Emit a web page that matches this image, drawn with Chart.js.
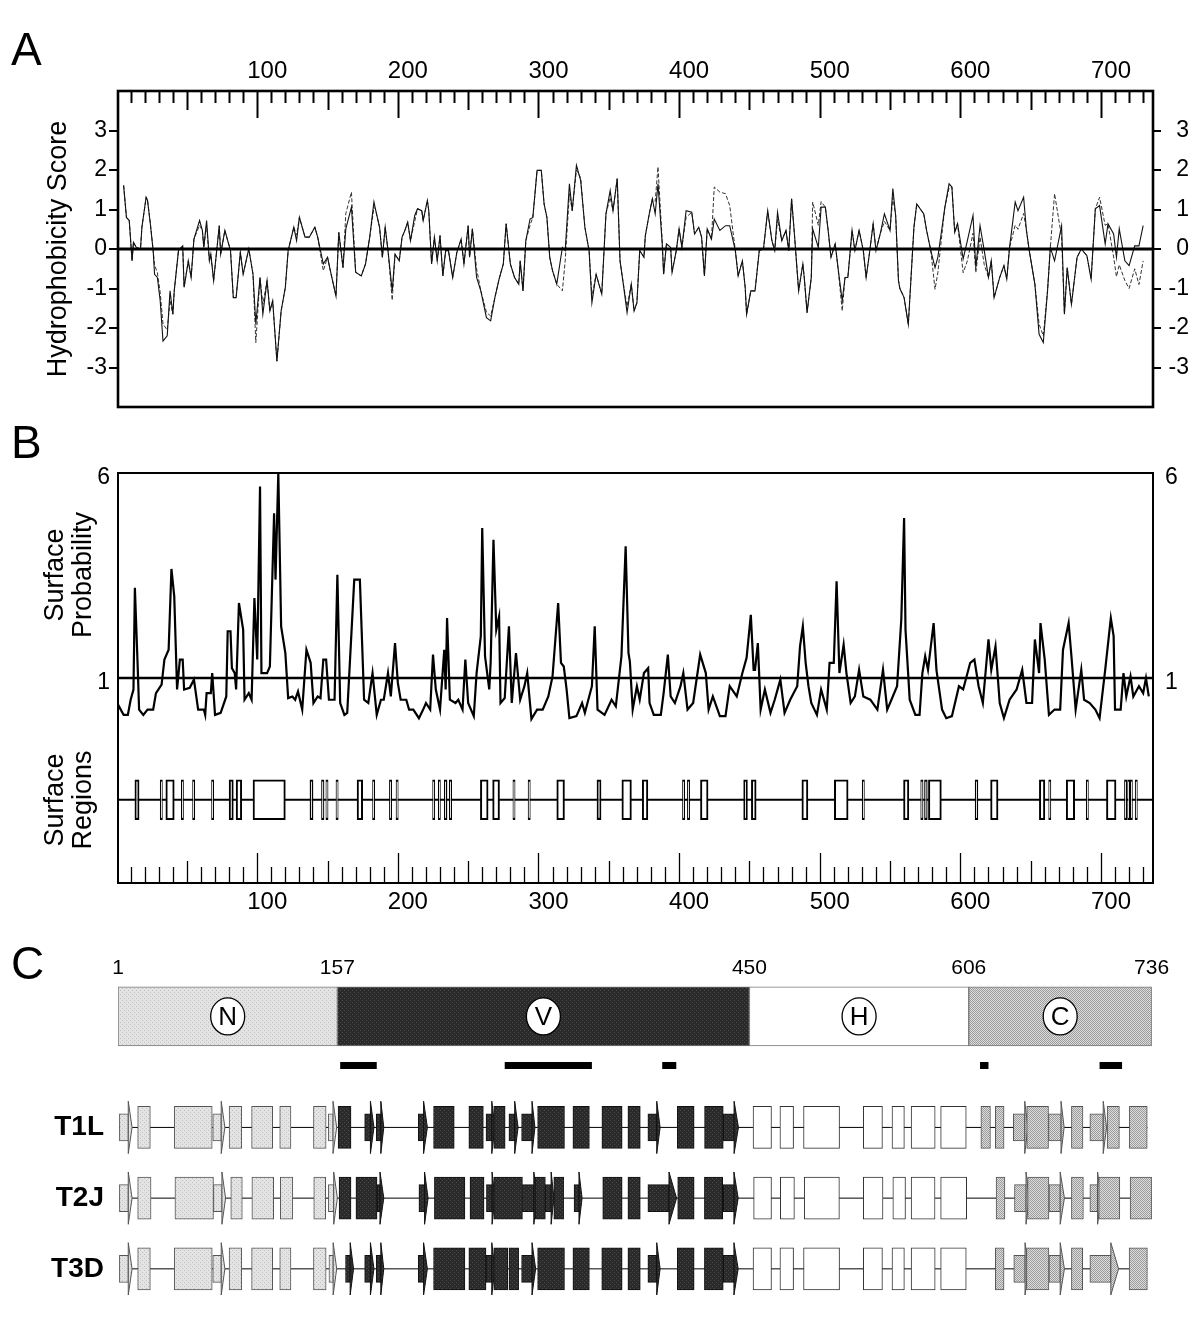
<!DOCTYPE html>
<html>
<head>
<meta charset="utf-8">
<script src="https://cdn.jsdelivr.net/npm/chart.js@4.4.1/dist/chart.umd.min.js"></script>
<style>
  body { margin: 0; background: #fff; width: 1200px; height: 1335px; position: relative; overflow: hidden;
         font-family: "Liberation Sans", Arial, sans-serif; }
  canvas { position: absolute; left: 0; }
  .letter { position: absolute; left: 11px; font-size: 46px; line-height: 46px; }
  .vtitle { position: absolute; font-size: 27px; line-height: 28px; text-align: center; white-space: nowrap;
            transform: translate(-50%, -50%) rotate(-90deg); }
</style>
</head>
<body>
<canvas id="chartA" width="1200" height="440" style="top:0"></canvas>
<canvas id="chartB" width="1200" height="480" style="top:440px"></canvas>
<canvas id="chartC" width="1200" height="405" style="top:930px"></canvas>
<div class="letter" style="top:26px">A</div>
<div class="letter" style="top:419px">B</div>
<div class="letter" style="top:940px">C</div>
<div class="vtitle" style="left:68px;top:575px">Surface<br>Probability</div>
<div class="vtitle" style="left:68px;top:800px">Surface<br>Regions</div>
<script>
// ---------- panel A: hydrophobicity ----------
var hydroPos = [5,7,9,11,12,14,17,18,21,22,24,26,27,29,31,33,36,38,40,41,44,47,48,51,53,55,59,61,62,64,66,67,69,73,74,77,81,83,85,88,90,94,97,99,102,104,107,109,111,114,117,120,122,126,128,130,134,137,141,143,147,150,152,156,158,161,163,167,170,174,177,180,183,184,187,189,191,193,196,198,201,203,205,207,209,212,214,217,218,221,222,224,226,228,230,232,234,236,239,242,245,247,250,251,253,256,259,263,266,269,272,275,277,280,283,286,287,289,291,294,296,299,302,304,306,308,310,313,317,319,322,324,327,330,333,336,338,341,345,348,351,353,356,358,360,363,366,368,370,372,375,376,379,381,383,385,388,389,391,394,395,398,400,402,405,409,411,414,416,418,420,423,425,429,433,436,440,442,445,447,448,451,454,457,460,463,466,468,470,473,476,478,480,482,485,488,489,491,494,495,499,501,504,506,508,511,513,516,518,520,523,525,528,531,533,535,538,540,543,546,550,552,554,556,557,560,563,567,569,574,576,579,582,584,587,589,592,594,596,598,602,605,609,611,614,617,620,622,624,628,631,633,635,639,641,645,647,649,653,656,659,662,664,667,672,674,676,679,683,686,690,693,696,699,703,705,709,711,713,717,720,724,727,730];
var hydroSolid = [1.61,0.8,0.72,-0.3,0.17,0.04,0,0.55,1.31,1.23,0.64,-0.04,-0.64,-0.72,-1.31,-2.33,-2.2,-1.06,-1.65,-1.06,-0.04,0.08,-0.97,-0.3,-0.72,0.25,0.72,0.47,0.04,0.72,-0.3,-0.13,-0.8,0.59,-0.13,0.47,-0.04,-1.23,-1.23,-0.08,-0.64,0,-0.64,-1.9,-0.72,-1.65,-0.8,-1.57,-1.31,-2.84,-1.57,-0.97,-0.04,0.55,0.21,0.8,0.3,0.3,0.55,0.3,-0.38,-0.21,-0.55,-1.19,0.42,-0.47,0.51,1.06,-0.59,-0.68,-0.38,0.3,1.19,1.02,0.55,-0.21,0.55,-0.04,-1.06,-0.13,-0.3,0.3,0.47,0.68,0.21,0.85,1.02,0.97,0.72,1.23,0.97,-0.38,0.3,-0.3,0.34,-0.68,-0.04,-0.04,-0.72,-0.08,0.25,-0.38,0.59,-0.21,0.51,-0.72,-1.06,-1.74,-1.82,-1.23,-0.76,-0.38,0.64,-0.38,-0.72,-0.89,-0.3,-1.06,0.21,0.76,0.8,1.99,1.99,1.14,0.8,-0.21,-0.55,-0.89,0.04,-0.04,1.65,0.97,2.12,1.74,0.55,-0.04,-1.36,-0.64,-1.14,0.89,1.48,0.97,1.78,-0.3,-0.8,-1.61,-0.89,-1.57,-1.36,-0.04,-0.21,0.34,0.93,1.27,0.89,1.65,0.13,-0.64,0.13,0.04,-0.59,-0.04,0.51,0.04,0.97,0.93,0.38,0.55,0.3,-0.68,0.51,0.25,0.76,0.47,0.59,0.59,-0.04,-0.68,-0.3,-0.97,-1.65,-1.06,-1.06,-0.04,0,0.97,0.21,-0.04,0.93,0.21,0.47,-0.04,1.27,0.38,-1.06,-0.38,-0.72,-1.61,-0.72,0.51,0.04,1.06,1.06,0.47,-0.21,0.13,-0.47,-1.31,-0.72,-0.72,0.47,-0.04,0.47,-0.04,-0.72,-0.21,0.64,-0.04,0.38,0.89,0.47,1.53,0.85,-0.8,-1.0,-1.23,-1.91,0.55,1.14,0.89,0.47,-0.04,-0.47,-0.21,0.55,1.06,1.65,1.57,0.42,0.64,-0.25,0.21,0.85,-0.47,0.59,-0.04,-0.72,-0.3,-1.23,-0.72,-0.42,-0.76,0.04,1.19,0.97,1.31,0.47,-0.04,-0.89,-2.16,-2.37,-1.06,0.04,-0.3,0.59,-1.65,-0.47,-1.4,-0.21,0,-0.17,-0.76,1.02,1.1,0.13,0.64,0.38,-0.21,0.51,-0.3,-0.42,0.08,0.08,0.59];
var hydroDashed = [1.61,0.8,0.72,-0.3,0.17,0.04,0,0.55,1.31,1.23,0.64,-0.04,-0.4,-0.6,-1.1,-1.9,-2.05,-1.3,-1.65,-1.06,-0.04,0.08,-0.97,-0.3,-0.72,0.25,0.6,0.47,0.04,0.6,-0.3,-0.13,-0.8,0.59,-0.13,0.47,-0.04,-1.23,-1.23,-0.08,-0.64,0,-0.64,-2.37,-0.72,-1.4,-0.8,-1.57,-1.31,-2.84,-1.57,-0.97,-0.04,0.55,0.35,0.8,0.3,0.3,0.55,0.3,-0.55,-0.21,-0.55,-1.19,0.42,-0.47,0.9,1.44,-0.59,-0.68,-0.38,0.3,1.05,1.02,0.55,-0.21,0.55,-0.04,-1.3,-0.13,-0.3,0.3,0.47,0.68,0.21,0.7,1.02,0.97,0.72,1.23,0.97,-0.38,0.3,-0.3,0.34,-0.68,-0.04,-0.04,-0.72,-0.08,0.25,-0.38,0.59,-0.21,0.51,-0.5,-1.06,-1.6,-1.7,-1.23,-0.76,-0.38,0.64,-0.38,-0.72,-0.89,-0.3,-1.06,0.21,0.6,0.8,1.99,1.99,1.14,0.8,-0.21,-0.55,-0.89,-1.06,-0.3,1.4,0.97,2.0,1.8,0.55,-0.04,-1.2,-0.64,-1.14,0.89,1.3,0.97,1.78,-0.3,-0.8,-1.45,-0.89,-1.57,-1.36,-0.04,-0.21,0.34,0.93,1.27,1.2,2.08,0.2,-0.64,0.13,0.04,-0.59,-0.04,0.51,0.04,0.8,0.93,0.38,0.55,0.3,-0.68,0.51,0.25,1.57,1.44,1.4,1.1,-0.04,-0.68,-0.3,-0.97,-1.65,-1.06,-1.06,-0.04,0,0.97,0.21,-0.04,0.75,0.21,0.47,-0.04,1.27,0.38,-1.06,-0.38,-0.72,-1.61,-0.72,1.19,0.6,1.2,1.06,0.47,-0.21,0.13,-0.47,-1.57,-0.72,-0.72,0.47,-0.04,0.47,-0.04,-0.72,-0.21,0.64,-0.04,0.38,0.7,0.47,1.3,0.85,-0.8,-1.0,-1.23,-1.91,0.55,1.14,0.89,0.47,-0.04,-1.02,-0.6,0.4,1.06,1.55,1.57,0.42,0.64,-0.6,-0.3,0.4,-0.6,0.3,-0.4,-0.72,-0.3,-1.23,-0.72,-0.42,-0.76,0.04,0.6,0.5,0.9,0.47,-0.04,-0.89,-1.9,-2.2,-1.06,0.04,1.4,0.3,-1.65,-0.47,-1.4,-0.21,0,-0.17,-0.76,1.02,1.31,0.6,0.64,-0.2,-0.7,-0.4,-0.8,-1.0,-0.5,-0.9,-0.3];
var seqTicks = [100, 200, 300, 400, 500, 600, 700];
var hydroTicks = [-3, -2, -1, 0, 1, 2, 3];

// ---------- panel B: surface probability ----------
var surfPos = [1,5,8,10,12,13,15,16,19,22,26,28,32,34,37,39,41,43,45,47,48,52,55,58,62,63,64,67,68,70,74,78,79,81,82,84,85,87,90,91,94,96,98,100,102,103,107,109,112,113,115,117,120,122,125,127,129,132,135,138,140,143,145,147,149,151,155,157,159,162,164,169,173,176,179,182,185,188,190,193,195,198,200,202,206,208,211,215,218,220,223,225,227,230,233,234,235,237,241,243,246,248,250,254,256,259,260,262,265,266,268,270,272,273,276,279,281,284,287,290,292,295,299,303,307,310,314,316,318,320,322,327,331,333,338,340,342,347,352,355,359,362,364,365,367,370,372,375,378,379,382,387,389,392,394,397,401,403,406,410,415,419,421,424,429,433,436,441,445,448,451,453,454,456,458,461,465,468,472,475,479,484,486,488,490,492,494,498,501,505,507,510,512,514,517,519,522,525,528,531,536,541,545,548,551,555,558,560,561,564,568,571,573,575,577,581,583,587,590,594,599,602,607,610,613,616,620,622,625,628,631,635,640,644,647,651,653,656,657,660,663,667,671,673,677,679,682,686,688,692,696,699,703,707,709,710,714,716,718,721,723,727,730,732,734];
var surfProb = [0.35,0.1,0.1,0.47,0.72,3.2,1.28,0.23,0.1,0.23,0.23,0.63,0.84,1.45,1.69,3.66,2.99,0.72,1.45,1.45,0.72,0.76,0.96,0.23,0.23,0.1,0.63,0.63,1.12,0.1,0.15,0.55,2.14,2.14,1.24,1.12,0.72,2.83,2.18,0.47,0.63,0.47,2.95,1.45,5.67,1.12,1.12,1.28,5.02,3.4,6.0,2.26,1.61,0.51,0.55,0.47,0.67,0.23,1.69,1.37,0.39,0.55,0.51,1.45,1.45,0.47,0.47,3.52,0.39,0.1,0.15,3.4,3.4,0.47,0.39,1.12,0.1,0.47,0.47,1.12,0.55,1.85,0.88,0.47,0.47,0.23,0.23,0.02,0.23,0.39,0.23,1.57,0.72,0.23,1.69,0.72,2.46,0.47,0.39,0.47,0.23,1.45,0.39,0.07,1.12,2.02,4.66,1.53,0.72,1.37,4.37,2.18,2.5,0.39,0.51,2.26,0.39,1.61,0.47,0.8,1.12,0.0,0.23,0.23,0.55,1.04,2.83,1.37,1.28,0.72,0.02,0.07,0.39,0.15,0.8,2.26,0.23,0.1,0.47,0.31,1.53,4.21,1.61,1.4,0.23,0.8,0.47,1.12,1.24,0.39,0.1,0.1,0.63,1.57,0.55,0.39,0.8,1.12,0.23,0.39,1.57,1.12,0.23,0.55,0.07,0.07,0.8,0.55,1.12,1.49,2.54,1.2,1.2,1.85,0.23,0.72,0.15,0.47,0.96,0.15,0.47,0.8,1.77,2.26,1.37,0.8,0.39,0.1,0.72,0.23,1.37,1.37,3.36,1.12,1.81,1.12,0.39,0.55,1.2,0.55,0.47,0.23,1.2,0.23,0.47,0.8,2.42,4.9,2.18,0.47,0.1,0.1,1.12,1.53,1.2,2.34,1.2,0.23,0.02,0.07,0.8,0.72,1.37,1.45,0.8,0.39,1.94,1.2,1.77,0.39,0.02,0.47,0.72,1.2,0.39,0.39,1.94,1.12,2.34,1.45,0.1,0.23,0.23,1.69,2.34,1.53,0.23,1.2,0.47,0.39,0.23,0.02,1.2,2.46,2.02,0.23,0.23,1.12,0.55,1.04,0.55,0.8,0.63,1.0,0.55];
var probTicks = [6, 1];
var surfRegions = [[13,16],[31,32.6],[35,41],[46,47.6],[54,55.6],[67.5,69.1],[80,83],[85,89],[97,120],[137.5,139.7],[145.7,147.5],[148.8,150.4],[156,157.6],[171,175],[182,183.6],[194,195.6],[198.7,200.3],[224.7,226.3],[228.7,230.3],[233,235],[236.5,238.3],[258.7,264.2],[267.4,272.3],[281.8,283.4],[292.6,294.2],[313,318.5],[341.6,344.5],[359.3,366.1],[373.8,377.8],[402.4,404],[405.9,407.5],[415.2,420.6],[445.9,448.6],[451.4,454.8],[487.3,491.6],[510.4,520.2],[530.2,531.8],[559.6,563.4],[571.8,573.5],[574.5,576.5],[577.3,586.5],[610.5,612.5],[621.5,626.8],[656.2,660.1],[662.8,664.4],[675.3,681.3],[689.5,691.1],[703.9,710.7],[716.7,718.3],[718.9,720.5],[720.8,722.4],[724.3,725.9]];
var regionRow = -1.97;

// ---------- panel C: domains and secondary structure ----------
var domainNames = ['N', 'V', 'H', 'C'];
var domainBounds = [1, 157, 450, 606, 736];
var epitopes = [[159,185],[276,338],[388,398],[614,620],[699,715]];
var strainNames = ['T1L', 'T2J', 'T3D'];
var strainRows = [3, 4, 5];
var rowEnds = [733, 736, 733];
// boxes: [start, end]; arrows: [start, body end, tip]
var boxesT1L = [[15,24],[41,68],[80,89],[96,111],[116,124],[140,149],[157.5,166.7],[225.4,240.1],[250.5,260.8],[268.2,276.3],[299.4,318.5],[324.5,336.2],[345.1,359.5],[363.6,372.4],[398.7,410.7],[418.1,431.4],[452.6,465.7],[471.7,481.4],[488.5,514.1],[531,544.6],[551.4,560.2],[565,582.1],[586,604.2],[614.6,621.4],[624.9,631.1],[647.2,662.7],[679,687.2],[704.4,713.1],[720.2,732.9]];
var arrowsT1L = [[2,8.3,11],[68.4,74.4,77],[150.6,153.9,156.5],[176.4,180.5,183],[184.6,187.9,190],[214.5,218.3,221],[262.7,266.8,269],[279,283.1,285.5],[288,295.4,297.5],[377.8,384.1,386.5],[431.4,439.1,442.2],[637.7,645.8,648],[662.7,671.6,673.8],[692.1,701.6,704]];
var boxesT2J = [[15,24.5],[41.5,68.9],[81.2,89.4],[96.2,111.7],[116.4,125.3],[140.2,148.7],[158.2,166.7],[170.2,185.2],[226,247.7],[251.3,261.3],[268.2,288.6],[297.5,304.9],[310.9,317.9],[345.7,359.5],[363.6,372.4],[399,410.7],[418,431],[453,465.7],[472,482],[489,514],[531,545],[552,561],[565,582],[586,604.5],[625.4,631.7],[647.8,663],[679,687.5],[698.4,713.4],[720.7,736]];
var arrowsT2J = [[2,8.3,11],[68.9,74.9,77.5],[150.6,154.4,157],[185.2,187.3,190],[215,219,221.5],[263,267,269],[288.6,296.7,299],[304.9,309,311],[325.3,328.8,331],[377.8,392.8,398.2],[431.4,439,442],[638.5,646.7,649],[663,671,674],[692.1,697.6,700]];
var boxesT3D = [[15,24],[41,68],[80,89],[96,111],[116,124],[140,149],[225.4,247.7],[250.5,262.7],[268.2,278.2],[279,285.9],[299.4,318.5],[324.5,336.2],[345,359.5],[363.6,372.4],[398.7,410.7],[418,431.4],[452.6,465.7],[471.7,481.4],[488.5,514.1],[531,544.6],[551.4,560.2],[565,582.1],[586,604.2],[624.9,631.1],[647,663],[679,687],[720,733]];
var arrowsT3D = [[2,8.3,11],[68.4,74.4,77],[151,154,156.5],[162.8,166.1,168.5],[176.4,180.5,183],[184.6,187.9,190],[214.5,218.3,221],[262.7,266.8,269],[288,295.4,298],[377.8,384.1,386.5],[431.4,439,442],[638,646,648.5],[663,671,674],[692.1,707,712.5]];
var strainBoxes = [boxesT1L, boxesT2J, boxesT3D];
var strainArrows = [arrowsT1L, arrowsT2J, arrowsT3D];

Chart.defaults.font.family = '"Liberation Sans", Arial, sans-serif';
Chart.defaults.color = '#000';

// helpers
function pts(xs, ys) { return xs.map(function (x, i) { return {x: x, y: ys[i]}; }); }
function hLine(y, x0, x1) { return [{x: x0, y: y}, {x: x1, y: y}]; }
function fixW(w) { return function (s) { s.width = w; }; }
function fixH(h) { return function (s) { s.height = h; }; }
function setTicks(vals) { return function (s) { s.ticks = vals.map(function (v) { return {value: v}; }); }; }

function makePattern(bg, fg, cells) {
  var c = document.createElement('canvas');
  c.width = 4; c.height = 4;
  var g = c.getContext('2d');
  g.fillStyle = bg; g.fillRect(0, 0, 4, 4);
  g.fillStyle = fg;
  cells.forEach(function (p) { g.fillRect(p[0], p[1], 1, 1); });
  return g.createPattern(c, 'repeat');
}
var patN = makePattern('#e3e3e3', '#c2c2c2', [[0,0],[2,2]]);
var patV = makePattern('#2a2a2a', '#4a4a4a', [[0,0],[2,2]]);
var patC = makePattern('#dcdcdc', '#9c9c9c', [[0,0],[2,0],[1,1],[3,1],[0,2],[2,2],[1,3],[3,3]]);
var domainFill = [patN, patV, '#ffffff', patC];
var domainEdge = ['#555', '#111', '#333', '#555'];
function domainOf(r) { return r < 157 ? 0 : r < 450 ? 1 : r < 606 ? 2 : 3; }
function fillFor(c) { return c.raw && c.raw.x ? domainFill[domainOf(c.raw.x[0])] : '#fff'; }
function edgeFor(c) { return c.raw && c.raw.x ? domainEdge[domainOf(c.raw.x[0])] : '#000'; }

var framePlugin = function (lw) {
  return {
    id: 'frame',
    afterDatasetsDraw: function (chart) {
      var a = chart.chartArea, ctx = chart.ctx;
      ctx.save();
      ctx.lineWidth = lw; ctx.strokeStyle = '#000';
      ctx.strokeRect(a.left, a.top, a.right - a.left, a.bottom - a.top);
      ctx.restore();
    }
  };
};
var innerTicks = function (edge, lens, lw) {
  return {
    id: 'innerTicks',
    afterDatasetsDraw: function (chart) {
      var a = chart.chartArea, ctx = chart.ctx, x = chart.scales.x;
      ctx.save();
      ctx.strokeStyle = '#000'; ctx.lineWidth = lw;
      for (var v = 10; v <= 730; v += 10) {
        var len = v % 100 === 0 ? lens[2] : (v % 50 === 0 ? lens[1] : lens[0]);
        var px = Math.round(x.getPixelForValue(v)) + 0.5;
        var y0 = edge === 'top' ? a.top : a.bottom;
        var y1 = edge === 'top' ? a.top + len : a.bottom - len;
        ctx.beginPath(); ctx.moveTo(px, y0); ctx.lineTo(px, y1); ctx.stroke();
      }
      ctx.restore();
    }
  };
};

var common = {
  responsive: false, animation: false, events: [],
  plugins: {legend: {display: false}, tooltip: {enabled: false}}
};

// ---------- chart A ----------
new Chart(document.getElementById('chartA'), {
  type: 'scatter',
  data: {datasets: [
    {type: 'line', data: hLine(0, 1, 737), borderColor: '#000', borderWidth: 2.8, pointRadius: 0, order: 0},
    {type: 'line', data: pts(hydroPos, hydroSolid), borderColor: '#111', borderWidth: 1.1, pointRadius: 0, order: 1},
    {type: 'line', data: pts(hydroPos, hydroDashed), borderColor: '#333', borderWidth: 1, borderDash: [4, 2], pointRadius: 0, order: 2}
  ]},
  options: Object.assign({}, common, {
    layout: {padding: {left: 0, right: 11, top: 0, bottom: 33}},
    scales: {
      x: {type: 'linear', position: 'top', min: 1, max: 737, afterBuildTicks: setTicks(seqTicks), afterFit: fixH(91),
          grid: {display: false, drawTicks: false}, border: {display: false},
          ticks: {font: {size: 24}, padding: 5, labelOffset: 10, autoSkip: false, maxRotation: 0}},
      y: {type: 'linear', position: 'left', min: -4, max: 4, afterBuildTicks: setTicks(hydroTicks), afterFit: fixW(118),
          grid: {drawOnChartArea: false, drawTicks: true, tickLength: 9, color: '#000', lineWidth: 2}, border: {display: false},
          ticks: {font: {size: 23}, padding: 2, autoSkip: false},
          title: {display: true, text: 'Hydrophobicity Score', font: {size: 27}, padding: {top: 42, bottom: 0}}},
      y2: {type: 'linear', position: 'right', min: -4, max: 4, afterBuildTicks: setTicks(hydroTicks), afterFit: fixW(36),
           grid: {drawOnChartArea: false, drawTicks: true, tickLength: 8, color: '#000', lineWidth: 2}, border: {display: false},
           ticks: {font: {size: 23}, padding: 7, crossAlign: 'far', autoSkip: false}}
    }
  }),
  plugins: [framePlugin(2.6), innerTicks('top', [12, 19, 27], 2)]
});

// ---------- chart B ----------
new Chart(document.getElementById('chartB'), {
  type: 'scatter',
  data: {datasets: [
    {type: 'line', data: hLine(1, 1, 737), borderColor: '#000', borderWidth: 2.4, pointRadius: 0, order: 0},
    {type: 'line', data: pts(surfPos, surfProb), borderColor: '#000', borderWidth: 2.2, pointRadius: 0, order: 1},
    {type: 'bar', indexAxis: 'y', grouped: false, xAxisID: 'x', yAxisID: 'y',
     data: surfRegions.map(function (r) { return {x: r, y: regionRow}; }),
     backgroundColor: '#fff', borderColor: '#000', borderWidth: 2, borderSkipped: false,
     barThickness: 40, maxBarThickness: 40, order: 2},
    {type: 'line', data: hLine(regionRow, 1, 737), borderColor: '#000', borderWidth: 2, pointRadius: 0, order: 3}
  ]},
  options: Object.assign({}, common, {
    layout: {padding: {left: 0, right: 0, top: 33, bottom: 0}},
    scales: {
      x: {type: 'linear', position: 'bottom', min: 1, max: 737, afterBuildTicks: setTicks(seqTicks), afterFit: fixH(37),
          grid: {display: false, drawTicks: false}, border: {display: false},
          ticks: {font: {size: 24}, padding: 5, labelOffset: 10, autoSkip: false, maxRotation: 0}},
      y: {type: 'linear', position: 'left', min: -4, max: 6, offset: false, afterBuildTicks: setTicks(probTicks), afterFit: fixW(118),
          grid: {display: false, drawTicks: false}, border: {display: false},
          ticks: {font: {size: 23}, padding: 8, labelOffset: 5, autoSkip: false}},
      y2: {type: 'linear', position: 'right', min: -4, max: 6, afterBuildTicks: setTicks(probTicks), afterFit: fixW(47),
           grid: {display: false, drawTicks: false}, border: {display: false},
           ticks: {font: {size: 23}, padding: 12, labelOffset: 5, autoSkip: false}}
    }
  }),
  plugins: [framePlugin(2), innerTicks('bottom', [16, 22, 30], 1.3)]
});

// ---------- chart C ----------
var yDom = 1.43, yEpi = 2.125, headHalf = 0.37;

var baseData = [];
strainRows.forEach(function (y, i) {
  baseData.push({x: 2, y: y}, {x: rowEnds[i], y: y}, {x: rowEnds[i], y: null});
});
var epiData = [];
epitopes.forEach(function (e) { epiData.push({x: e[0], y: yEpi}, {x: e[1], y: yEpi}, {x: e[1], y: null}); });

var boxData = [], bodyData = [], headData = [[], [], [], []];
strainRows.forEach(function (y, i) {
  strainBoxes[i].forEach(function (b) { boxData.push({x: b, y: y}); });
  strainArrows[i].forEach(function (a) {
    bodyData.push({x: [a[0], a[1]], y: y});
    var d = headData[domainOf(a[0])];
    d.push({x: a[1], y: y - headHalf}, {x: a[2], y: y}, {x: a[1], y: y + headHalf}, {x: a[1], y: y - headHalf}, {x: a[1], y: null});
  });
});
var domData = domainNames.map(function (n, i) { return {x: [domainBounds[i], domainBounds[i + 1]], y: yDom}; });

var cDatasets = [
  {type: 'line', data: epiData, borderColor: '#000', borderWidth: 7, borderCapStyle: 'butt', pointRadius: 0, order: 1},
  {type: 'bar', label: 'domains', indexAxis: 'y', grouped: false, data: domData,
   backgroundColor: fillFor, borderColor: '#777', borderWidth: 1, borderSkipped: false,
   barThickness: 59, maxBarThickness: 59, order: 2},
  {type: 'bar', indexAxis: 'y', grouped: false, data: boxData,
   backgroundColor: fillFor, borderColor: edgeFor, borderWidth: 1, borderSkipped: false,
   barThickness: 42, maxBarThickness: 42, order: 5},
  {type: 'bar', indexAxis: 'y', grouped: false, data: bodyData,
   backgroundColor: fillFor, borderColor: edgeFor, borderWidth: 1, borderSkipped: false,
   barThickness: 27, maxBarThickness: 27, order: 7}
];
headData.forEach(function (d, k) {
  if (d.length) cDatasets.push({type: 'line', data: d, fill: 'shape', backgroundColor: domainFill[k],
    borderColor: domainEdge[k], borderWidth: 1, pointRadius: 0, order: 8});
});
cDatasets.push({type: 'line', data: baseData, borderColor: '#000', borderWidth: 1, pointRadius: 0, order: 20});

var circleLabels = {
  id: 'circleLabels',
  afterDatasetsDraw: function (chart) {
    var idx = chart.data.datasets.findIndex(function (d) { return d.label === 'domains'; });
    var meta = chart.getDatasetMeta(idx), ctx = chart.ctx;
    meta.data.forEach(function (bar, i) {
      var cx = (bar.x + bar.base) / 2, cy = bar.y;
      ctx.save();
      ctx.beginPath();
      ctx.ellipse(cx, cy, 17, 18.5, 0, 0, Math.PI * 2);
      ctx.fillStyle = '#fff'; ctx.fill();
      ctx.lineWidth = 1.3; ctx.strokeStyle = '#000'; ctx.stroke();
      ctx.fillStyle = '#000';
      ctx.font = '26px "Liberation Sans", Arial, sans-serif';
      ctx.textAlign = 'center'; ctx.textBaseline = 'middle';
      ctx.fillText(domainNames[i], cx, cy + 1);
      ctx.restore();
    });
  }
};

new Chart(document.getElementById('chartC'), {
  type: 'scatter',
  data: {datasets: cDatasets},
  options: Object.assign({}, common, {
    layout: {padding: {left: 0, right: 47, top: 0, bottom: 7}},
    scales: {
      x: {type: 'linear', position: 'top', min: 1, max: 737, afterBuildTicks: setTicks(domainBounds), afterFit: fixH(56),
          grid: {display: false, drawTicks: false}, border: {display: false},
          ticks: {font: {size: 21}, padding: 5, autoSkip: false, maxRotation: 0}},
      y: {type: 'linear', position: 'left', reverse: true, min: 1, max: 5.5, offset: false,
          afterBuildTicks: setTicks(strainRows), afterFit: fixW(118),
          grid: {display: false, drawTicks: false}, border: {display: false},
          ticks: {font: {size: 28, weight: 'bold'}, padding: 14, autoSkip: false,
                  callback: function (v) { return strainNames[Math.round(v) - 3]; }}}
    }
  }),
  plugins: [circleLabels]
});
</script>
</body>
</html>
